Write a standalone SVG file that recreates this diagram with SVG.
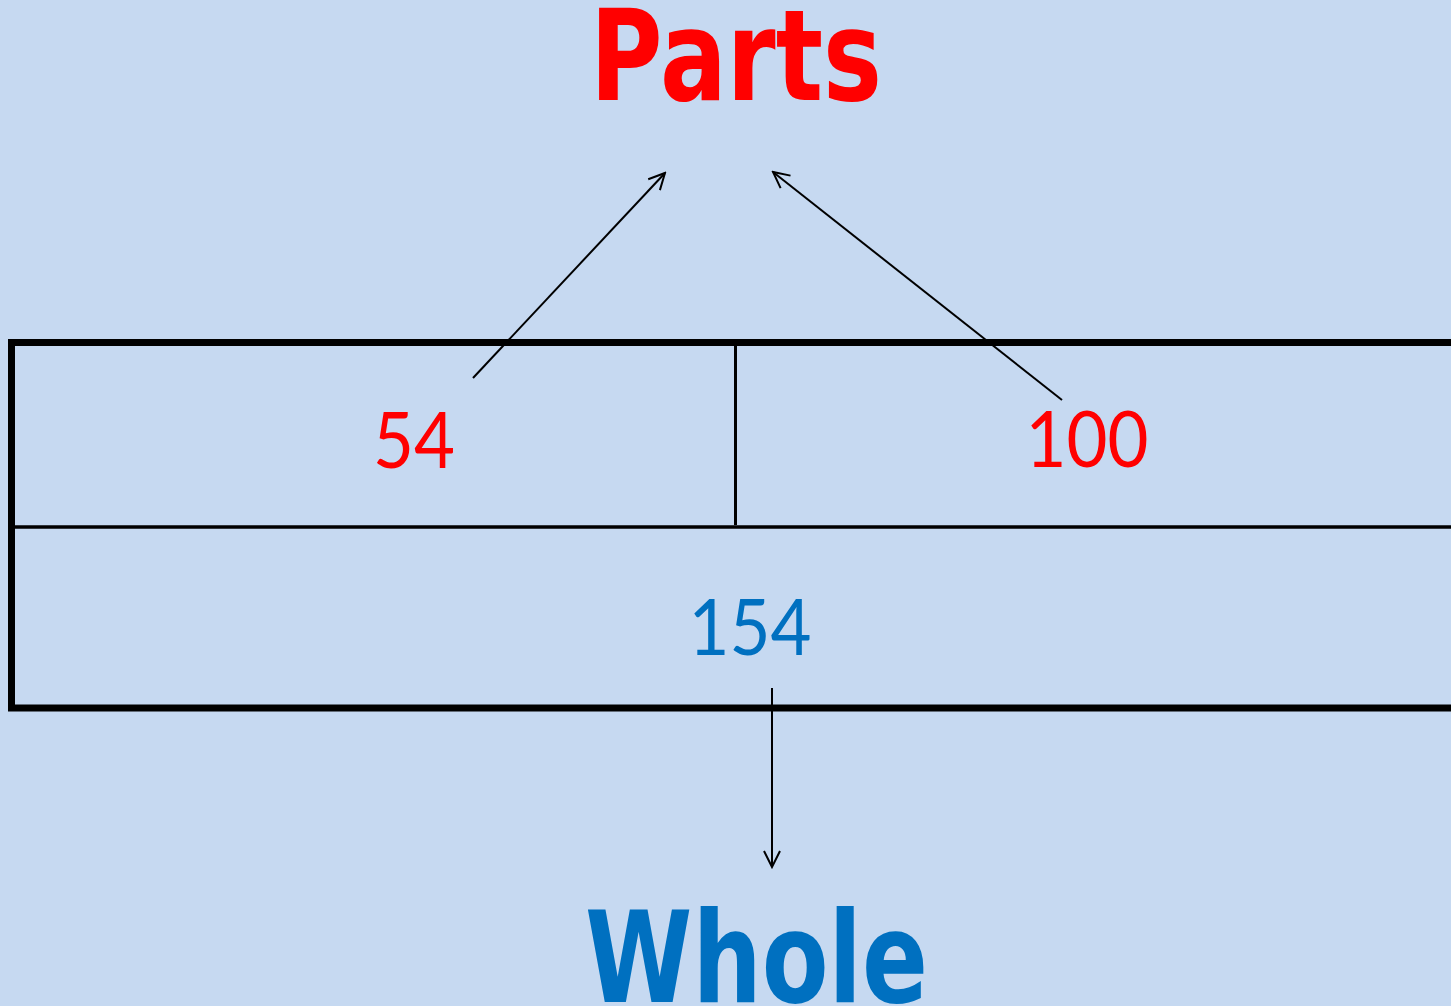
<svg xmlns="http://www.w3.org/2000/svg" width="1451" height="1006" viewBox="0 0 1451 1006">
<style>
.title{font-family:"DejaVu Sans","Noto Sans",sans-serif;font-weight:bold;font-size:126px}
.num{font-family:Lato,"Open Sans",sans-serif;font-size:78px}
.conn{stroke:#000;stroke-width:2;fill:none}
</style>
<defs>
<marker id="ah" viewBox="0 0 20 20" refX="18" refY="10" markerWidth="20" markerHeight="20" markerUnits="userSpaceOnUse" orient="auto">
<path d="M2,2 L18,10 L2,18" fill="none" stroke="#000" stroke-width="2"/>
</marker>
</defs>
<rect width="1451" height="1006" fill="#C6D9F1"/>
<g id="bar">
<rect x="11.5" y="342.5" width="1460" height="365.5" fill="none" stroke="#000" stroke-width="7"/>
<line x1="15" y1="527" x2="1451" y2="527" stroke="#000" stroke-width="3.5"/>
<line x1="735.5" y1="346" x2="735.5" y2="525" stroke="#000" stroke-width="3"/>
</g>
<g id="part54"><text class="num" x="414" y="468" text-anchor="middle" fill="#FF0000" textLength="82" lengthAdjust="spacingAndGlyphs">54</text></g>
<g id="part100"><text class="num" x="1087" y="467" text-anchor="middle" fill="#FF0000" textLength="123" lengthAdjust="spacingAndGlyphs">100</text></g>
<g id="whole154"><text class="num" x="750" y="655" text-anchor="middle" fill="#0070C0" textLength="123" lengthAdjust="spacingAndGlyphs">154</text></g>
<g id="parts"><text class="title" x="590" y="100" fill="#FF0000" textLength="292" lengthAdjust="spacingAndGlyphs">Parts</text></g>
<g id="whole"><text class="title" x="585" y="1002" fill="#0070C0" textLength="343" lengthAdjust="spacingAndGlyphs">Whole</text></g>
<g id="connectors">
<line class="conn" x1="473" y1="378" x2="665" y2="173" marker-end="url(#ah)"/>
<line class="conn" x1="1062" y1="400" x2="773" y2="172" marker-end="url(#ah)"/>
<line class="conn" x1="772" y1="688" x2="772" y2="867" marker-end="url(#ah)"/>
</g>
</svg>
